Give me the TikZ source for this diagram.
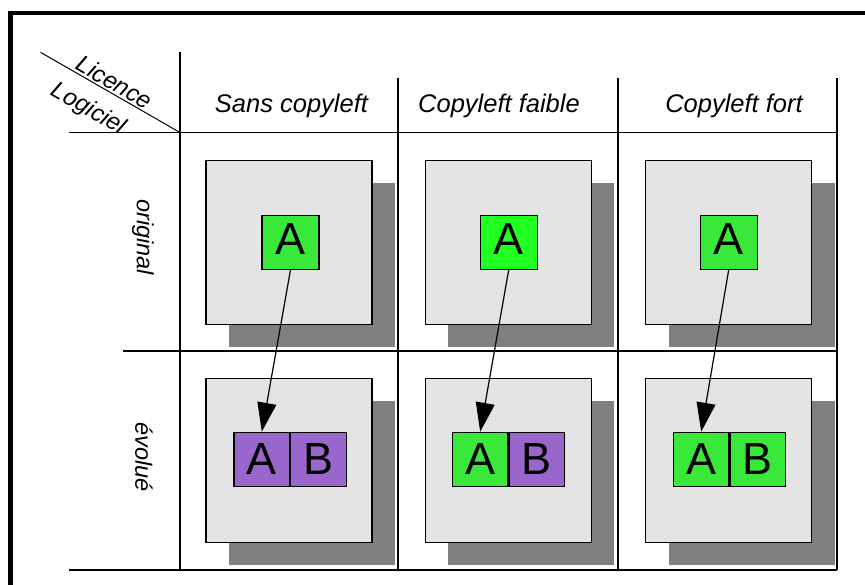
\documentclass[tikz,border=0pt]{standalone}
\usepackage{fontspec}
\setmainfont{Liberation Sans}
\usetikzlibrary{arrows.meta,shadows}
\definecolor{boxgray}{RGB}{228,228,228}
\definecolor{shadowgray}{RGB}{128,128,128}
\definecolor{agreen}{RGB}{58,232,58}
\definecolor{bgreen}{RGB}{34,255,34}
\definecolor{apurple}{RGB}{153,102,204}
\begin{document}
\begin{tikzpicture}[x=1pt,y=-1pt,
  gridline/.style={line width=1.3pt},
  gbox/.style={draw, fill=boxgray, line width=1.5pt, inner sep=0pt,
    minimum width=166pt, minimum height=164pt,
    drop shadow={shadow xshift=23pt, shadow yshift=-22pt, fill=shadowgray, opacity=1}},
  topbox/.style={draw, line width=1.2pt, inner sep=0pt, minimum width=57pt,
    minimum height=53.5pt, text height=32.2pt, text depth=9pt,
    font=\fontsize{45}{50}\selectfont},
  halfbox/.style={draw, line width=1.2pt, inner sep=0pt, minimum width=55.5pt,
    minimum height=54.4pt, font=\fontsize{45}{50}\selectfont},
  head/.style={anchor=base, font=\fontsize{25.5}{30}\selectfont\itshape},
  corner/.style={anchor=base, rotate=-30, font=\fontsize{24}{28}\selectfont\itshape},
  rowlab/.style={rotate=-90, font=\fontsize{23.5}{28}\selectfont\itshape},
  link/.style={line width=1.2pt, -{Triangle[length=29pt,width=19pt]}}]
\useasboundingbox (0,0) rectangle (865,584);
\clip (0,0) rectangle (865,584);
% outer frame
\draw[line width=4.5pt] (10.5,600) -- (10.5,13.2) -- (880,13.2);
% table
\coordinate (d1) at (40.5,52.3);
\coordinate (d2) at (180,132.5);
\draw[line width=1pt] (d1) -- (d2);
\draw[gridline] (180,52) -- (180,570);
\draw[gridline] (398,78) -- (398,570);
\draw[gridline] (618,78) -- (618,570);
\draw[gridline] (837,78) -- (837,570);
\draw[gridline] (69,132.5) -- (837,132.5);
\draw[gridline] (123,351) -- (837,351);
\draw[gridline] (69,570) -- (837,570);
% labels
\node[corner] (lic) at (110.5,89.5) {Licence};
\node[corner] (log) at (85.2,114.7) {Logiciel};
\node[head] (h1) at (291.5,112) {Sans copyleft};
\node[head] (h2) at (499,112) {Copyleft faible};
\node[head] (h3) at (734,112) {Copyleft fort};
\node[rowlab] (r1) at (143,237) {original};
\node[rowlab] (r2) at (144,457) {évolué};
% gray boxes
\node[gbox] (g11) at (289.2,242.5) {};
\node[gbox] (g12) at (508.4,242.5) {};
\node[gbox] (g13) at (728.5,242.5) {};
\node[gbox] (g21) at (289.2,460.7) {};
\node[gbox] (g22) at (508.4,460.7) {};
\node[gbox] (g23) at (728.5,460.7) {};
% top A boxes
\node[topbox, fill=agreen] (a1) at (290.5,242.5) {A};
\node[topbox, fill=bgreen] (a2) at (508.7,242.5) {A};
\node[topbox, fill=agreen] (a3) at (728.7,242.5) {A};
% bottom boxes
\node[halfbox, fill=apurple] (b1a) at (261.8,459.5) {A};
\node[halfbox, fill=apurple, anchor=west] (b1b) at (b1a.east) {B};
\node[halfbox, fill=agreen] (b2a) at (480.2,459.5) {A};
\node[halfbox, fill=apurple, anchor=west] (b2b) at (b2a.east) {B};
\node[halfbox, fill=agreen] (b3a) at (701.2,459.5) {A};
\node[halfbox, fill=agreen, anchor=west] (b3b) at (b3a.east) {B};
% arrows
\draw[link] (a1.south) -- (b1a.north);
\draw[link] (a2.south) -- (b2a.north);
\draw[link] (a3.south) -- (b3a.north);
\end{tikzpicture}
\end{document}
